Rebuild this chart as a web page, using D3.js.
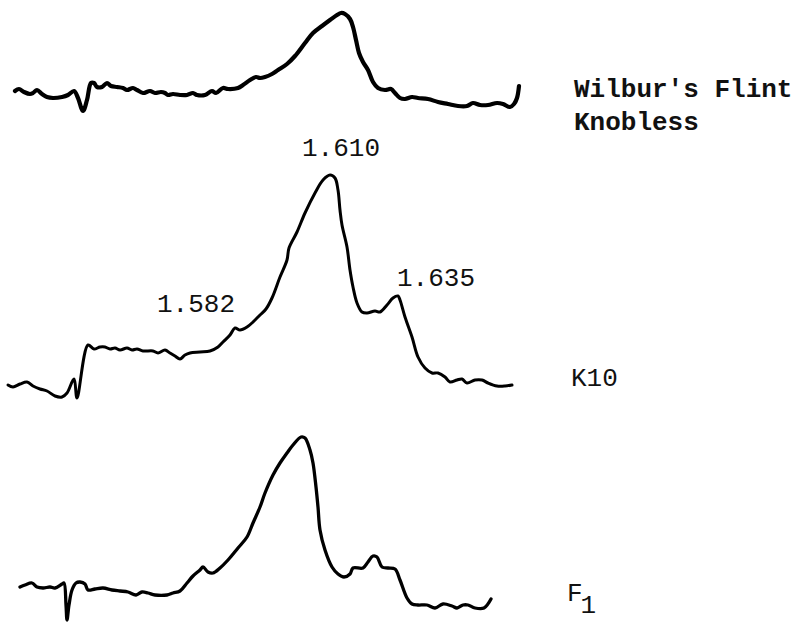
<!DOCTYPE html>
<html>
<head>
<meta charset="utf-8">
<script src="https://cdn.jsdelivr.net/npm/d3@7/dist/d3.min.js"></script>
<style>
  body { margin: 0; background: #fff; }
  svg { display: block; }
  .lbl { font-family: "Courier New", "Liberation Mono", monospace; fill: #111; }
</style>
</head>
<body>
<svg width="803" height="622"></svg>
<script>
// scan position (arbitrary units) and trace deflection for each sample
var wilburX = [15,19,24,30,33,37,42,47,53,62,68,74,78,83,87,91,94,97,102,107,111,117,123,127,133,137,143,150,155,161,165,168,173,180,187,193,197,205,212,216,223,228,238,243,250,256,260,265,272,278,287,295,305,313,322,330,337,341,345,350,353,356,359,363,368,373,378,385,391,395,400,405,412,418,428,438,448,458,467,473,480,488,497,503,510,514,517,519];
var wilburY = [29,31,28,26,27,30,26,23,22,23,25,29,22,9,20,37,37,33,33,37,34,33,32,30,32,30,27,29,27,28,27,25,26,25,25,27,25,25,29,27,32,31,32,35,40,43,42,43,46,50,56,64,77,87,94,100,105,107,106,101,93,80,67,58,50,38,32,30,31,27,22,21,23,22,21,18,16,14,14,17,15,15,17,16,13,16,22,34];

var k10X = [8,13,20,27,33,40,47,55,62,67,74,77,88,94,100,105,110,115,120,127,132,137,143,153,158,165,170,175,180,185,190,200,210,218,223,230,235,240,247,253,260,266,272,280,287,289,297,305,315,323,330,335,338,340,342,347,350,353,357,362,367,375,380,387,393,398,400,405,412,418,425,432,438,445,450,457,462,467,475,482,488,497,505,512];
var k10Y = [15,13,16,18,14,11,9,4,3,7,21,2,55,51,53,53,51,52,50,52,50,51,49,49,47,50,47,44,41,45,47,48,49,53,58,65,72,70,73,78,85,91,102,123,140,152,168,187,207,220,225,222,210,190,175,153,130,113,97,88,87,89,88,95,102,104,100,83,63,43,32,27,27,23,18,20,21,17,20,20,17,14,14,15];

var f1X = [20,25,32,37,43,50,55,62,64,66,67,69,72,76,80,85,88,95,103,112,120,128,136,142,148,155,167,173,180,187,193,200,203,208,213,220,228,238,247,253,260,265,273,280,287,293,301,305,310,313,316,318,320,325,332,338,344,350,353,363,368,373,377,382,388,395,400,407,412,418,427,435,443,452,457,463,468,475,484,491];
var f1Y = [35,37,39,35,34,35,34,38,39,17,2,17,32,39,40,38,32,33,34,32,31,30,27,30,29,27,27,29,31,39,46,52,55,50,49,54,62,74,85,99,115,129,147,159,169,177,185,184,172,159,135,115,92,72,55,48,45,48,54,54,60,66,65,55,54,53,42,24,18,17,17,14,18,16,14,17,17,14,14,23];

var traceNames = ["Wilbur's Flint", "K10", "F1"];
var peakLabels = ["1.582", "1.610", "1.635"];
var peakAt = [235, 330, 398];   // K10 positions the labels point at

var svg = d3.select("svg");

var x = d3.scaleLinear().domain([0, 520]).range([0, 520]);
var yTop = d3.scaleLinear().domain([0, 120]).range([120, 0]);
var yMid = d3.scaleLinear().domain([0, 240]).range([400, 160]);
var yBot = d3.scaleLinear().domain([0, 200]).range([622, 422]);

function trace(xs, ys, yScale, w) {
  var pts = xs.map(function(d, i) { return [d, ys[i]]; });
  var line = d3.line()
      .x(function(d) { return x(d[0]); })
      .y(function(d) { return yScale(d[1]); })
      .curve(d3.curveCatmullRom.alpha(0.5));
  svg.append("path")
      .datum(pts)
      .attr("d", line)
      .attr("fill", "none")
      .attr("stroke", "#000")
      .attr("stroke-width", w)
      .attr("stroke-linejoin", "round")
      .attr("stroke-linecap", "round");
}

trace(wilburX, wilburY, yTop, 4.2);
trace(k10X, k10Y, yMid, 3);
trace(f1X, f1Y, yBot, 3.3);

// peak labels above the K10 trace
var labelDx = [-78, -28, -1];
var labelDy = [-16, -19, -10];
peakLabels.forEach(function(t, i) {
  var px = peakAt[i];
  var k = k10X.indexOf(px);
  svg.append("text")
      .attr("class", "lbl")
      .attr("x", x(px) + labelDx[i])
      .attr("y", yMid(k10Y[k]) + labelDy[i])
      .attr("font-size", 26)
      .text(t);
});

// trace names on the right
var first = svg.append("text").attr("class", "lbl")
    .attr("x", 574).attr("y", 97).attr("font-size", 26).attr("font-weight", "bold");
first.append("tspan").attr("x", 574).text(traceNames[0]);
first.append("tspan").attr("x", 574).attr("dy", 33).text("Knobless");

svg.append("text").attr("class", "lbl")
    .attr("x", 571).attr("y", 386).attr("font-size", 26)
    .text(traceNames[1]);

var f = svg.append("text").attr("class", "lbl")
    .attr("x", 567).attr("y", 601).attr("font-size", 26);
f.append("tspan").text(traceNames[2].charAt(0));
f.append("tspan").attr("dx", -2).attr("dy", 12).text(traceNames[2].charAt(1));
</script>
</body>
</html>
